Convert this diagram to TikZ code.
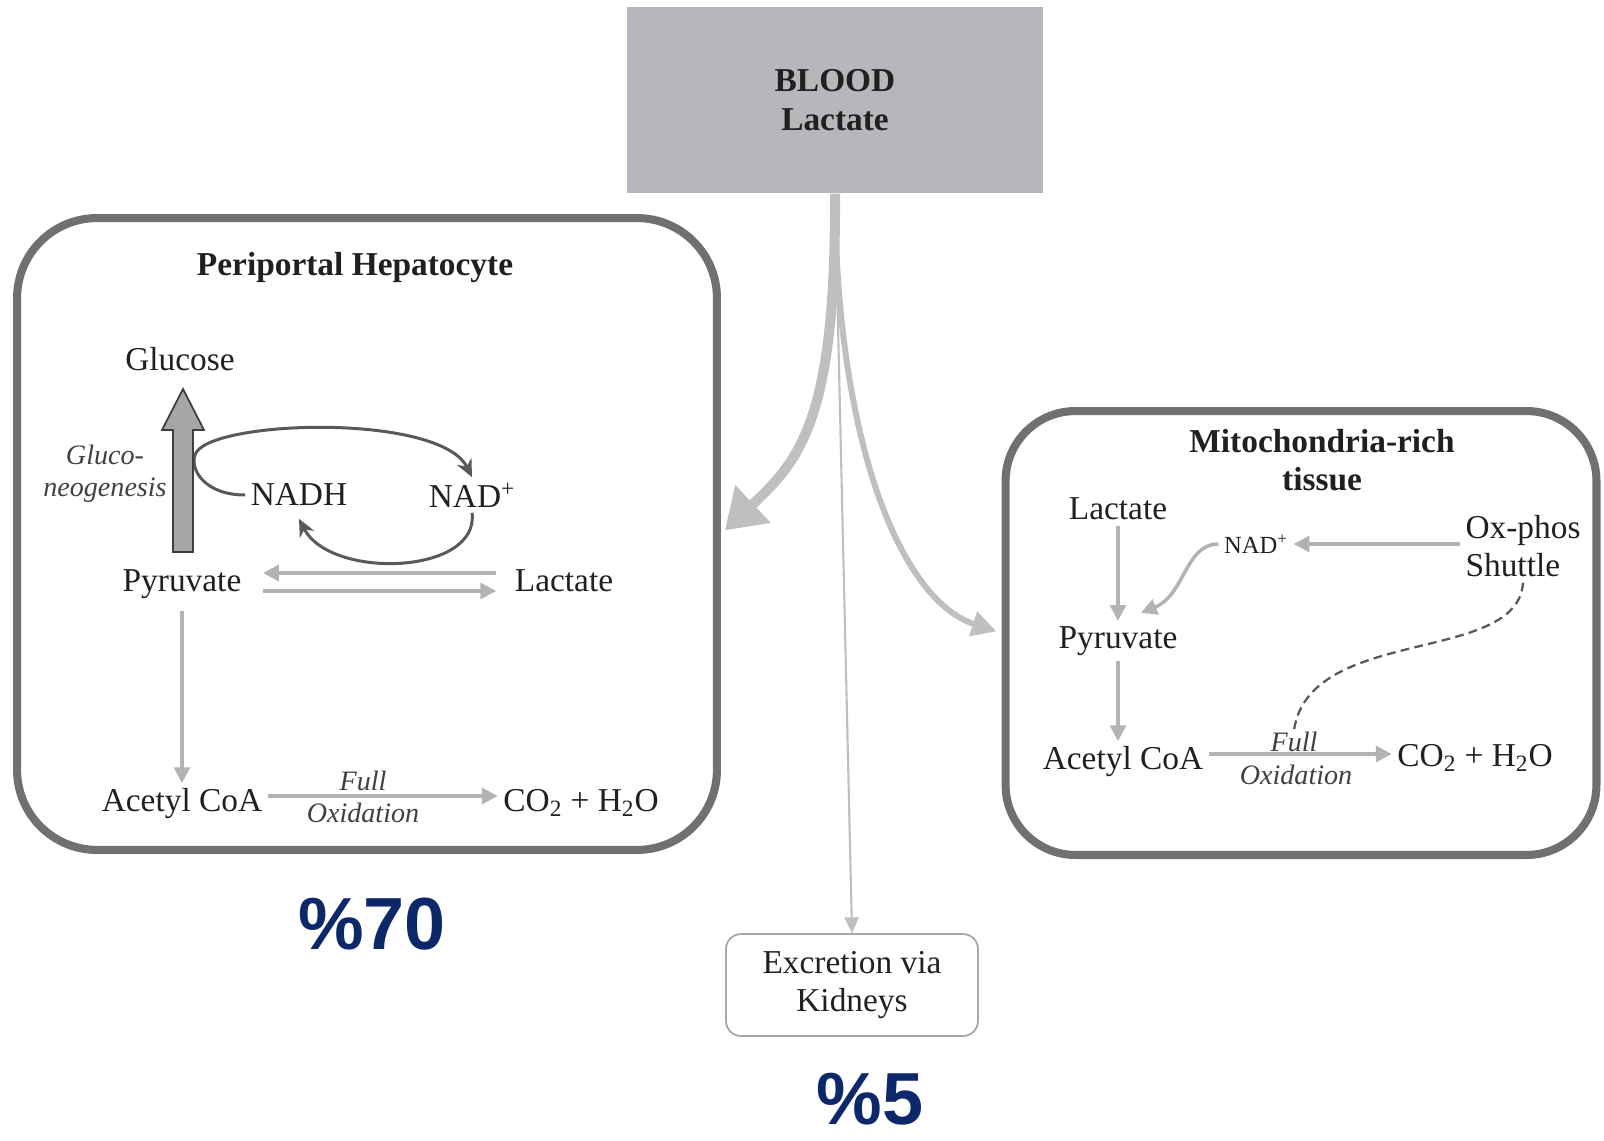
\documentclass[tikz,border=0pt]{standalone}
\usepackage{fontspec}
\setmainfont{Liberation Serif}
\newfontfamily\pctfont{Liberation Sans}
\usepackage{tikz}
\usetikzlibrary{arrows.meta,calc}

\definecolor{boxgray}{HTML}{707070}
\definecolor{bloodgray}{HTML}{B5B7BA}
\definecolor{flowgray}{HTML}{BFBFBF}
\definecolor{litegray}{HTML}{B3B3B3}
\definecolor{darkarc}{HTML}{595959}
\definecolor{inkblack}{HTML}{231F20}
\definecolor{pctblue}{RGB}{12,40,105}

\begin{document}
\begin{tikzpicture}[x=0.02cm,y=-0.02cm,
  txt/.style={draw=none,text=inkblack,inner sep=3pt,font=\fontsize{19}{22}\selectfont},
  ttl/.style={txt,font=\fontsize{19}{22}\selectfont\bfseries,align=center},
  note/.style={draw=none,text=black!75,inner sep=1pt,font=\fontsize{16}{18}\selectfont\itshape,align=center},
  cell/.style={draw=boxgray,line width=4.6pt},
  lite/.style={draw=litegray,line width=2pt,-{Triangle[length=9pt,width=9pt]}},
  cyc/.style={draw=darkarc,line width=1.7pt,-{Stealth[length=10pt,width=9pt]}},
  flow/.style={draw=flowgray},
  pct/.style={draw=none,text=pctblue,anchor=base,inner sep=0pt,font=\pctfont\bfseries\fontsize{42}{42}\selectfont}
]
\useasboundingbox (0,0) rectangle (1604,1141);

% Blood and the two tissues
\node [fill=bloodgray,minimum width=8.32cm,minimum height=3.74cm,align=center,
       text=inkblack,font=\fontsize{19}{22}\selectfont\bfseries] (blood) at (835,100) {BLOOD\\Lactate};
\node [cell,rounded corners=1.6cm,minimum width=14cm,minimum height=12.64cm] (hep) at (367,534) {};
\node [cell,rounded corners=1.4cm,minimum width=11.82cm,minimum height=8.88cm] (mito) at (1301,633) {};
\node [txt,draw=gray!70,line width=1pt,rounded corners=0.3cm,minimum width=5.04cm,
       minimum height=2.04cm,align=center] (kid) at (852,985) {Excretion via\\Kidneys};

% Periportal hepatocyte
\node [ttl] (heptitle) at (355,268) {Periportal Hepatocyte};
\node [txt] (glu) at (180,359) {Glucose};
\node [note] (gng) at (105,474) {Gluco-\\neogenesis};
\node [txt] (nadh) at (299,495) {NADH};
\node [txt] (nadp) at (472,495) {NAD\textsuperscript{+}};
\node [txt] (pyr) at (182,584) {Pyruvate};
\node [txt] (lac) at (564,581) {Lactate};
\node [txt] (acc) at (182,804) {Acetyl CoA};
\node [txt] (co2) at (581,803) {CO\textsubscript{2} + H\textsubscript{2}O};
\node [note] (full) at (363,781) {Full};
\node [note] (oxi) at (363,813) {Oxidation};

\draw[cyc] (nadh.west) .. controls (205,495) and (190,470) .. (195,455)
  .. controls (205,420) and (440,412) .. (nadp.north); % NADH to NAD+
\draw[cyc] (nadp.south) .. controls (480,575) and (330,580) .. ([yshift=-4pt]nadh.south);
\filldraw[fill=gray!70,draw=darkarc!70!black,line width=1pt]
  (173,552) -- (173,430) -- (162,430) -- (183,389) -- (204,430) -- (193,430) -- (193,552) -- cycle; % Big arrow

\draw[lite] ($(lac.west)+(-13,-8)$) -- ($(pyr.east)+(16,-11)$);
\draw[lite] ($(pyr.east)+(16,7)$) -- ($(lac.west)+(-13,10)$);
\draw[lite,shorten <=4pt] (pyr.south) -- (acc.north);
\draw[lite] ($(acc.east)+(0,-8)$) -- ($(acc.east -| co2.west)+(0,-8)$);

% Mitochondria-rich tissue
\node [ttl] (mtitle) at (1322,460) {Mitochondria-rich\\tissue};
\node [txt] (mlac) at (1118,509) {Lactate};
\node [txt,font=\fontsize{14}{16}\selectfont] (mnad) at (1256,544) {NAD\textsuperscript{+}};
\node [txt,align=left] (ox) at (1523,546) {Ox-phos\\Shuttle};
\node [txt] (mpyr) at (1118,641) {Pyruvate};
\node [txt] (macc) at (1123,762) {Acetyl CoA};
\node [txt] (mco2) at (1475,758) {CO\textsubscript{2} + H\textsubscript{2}O};
\node [note] (mfull) at (1294,742) {Full};
\node [note] (moxi) at (1296,775) {Oxidation};

\draw[lite] (ox.west |- mnad.east) -- (mnad.east);
\draw[lite] (mnad.west) .. controls (1185,544) and (1185,595) .. ($(mpyr.north)+(23,-8)$);
\draw[lite] (mlac.south -| mpyr.north) -- (mpyr.north);
\draw[lite] (mpyr.south) -- (mpyr.south |- macc.north);
\draw[lite] ($(macc.east)+(0,-8)$) -- ($(macc.east -| mco2.west)+(0,-8)$);
\draw[darkarc,line width=1.3pt,dashed,dash pattern=on 5pt off 3pt]
  (ox.south) .. controls (1518,665) and (1310,625) .. (mfull.north); % Shuttle link

% Flows out of the blood
\draw[flow,line width=5.7pt,-{Triangle[length=22pt,width=28pt]},shorten >=3pt]
  (blood.south) .. controls (836,420) and (800,460) .. (hep.east);
\draw[flow,line width=3.4pt,-{Triangle[length=14pt,width=14pt]},shorten >=3pt]
  (blood.south) .. controls (836,440) and (900,600) .. (mito.west);
\draw[flow,line width=1.2pt,-{Triangle[length=9pt,width=8pt]}] (blood.south) -- (kid.north);

% Shares
\node [pct] (p70) at (372,949) {\%70};
\node [pct] (p5) at (870,1124) {\%5};

\end{tikzpicture}
\end{document}
